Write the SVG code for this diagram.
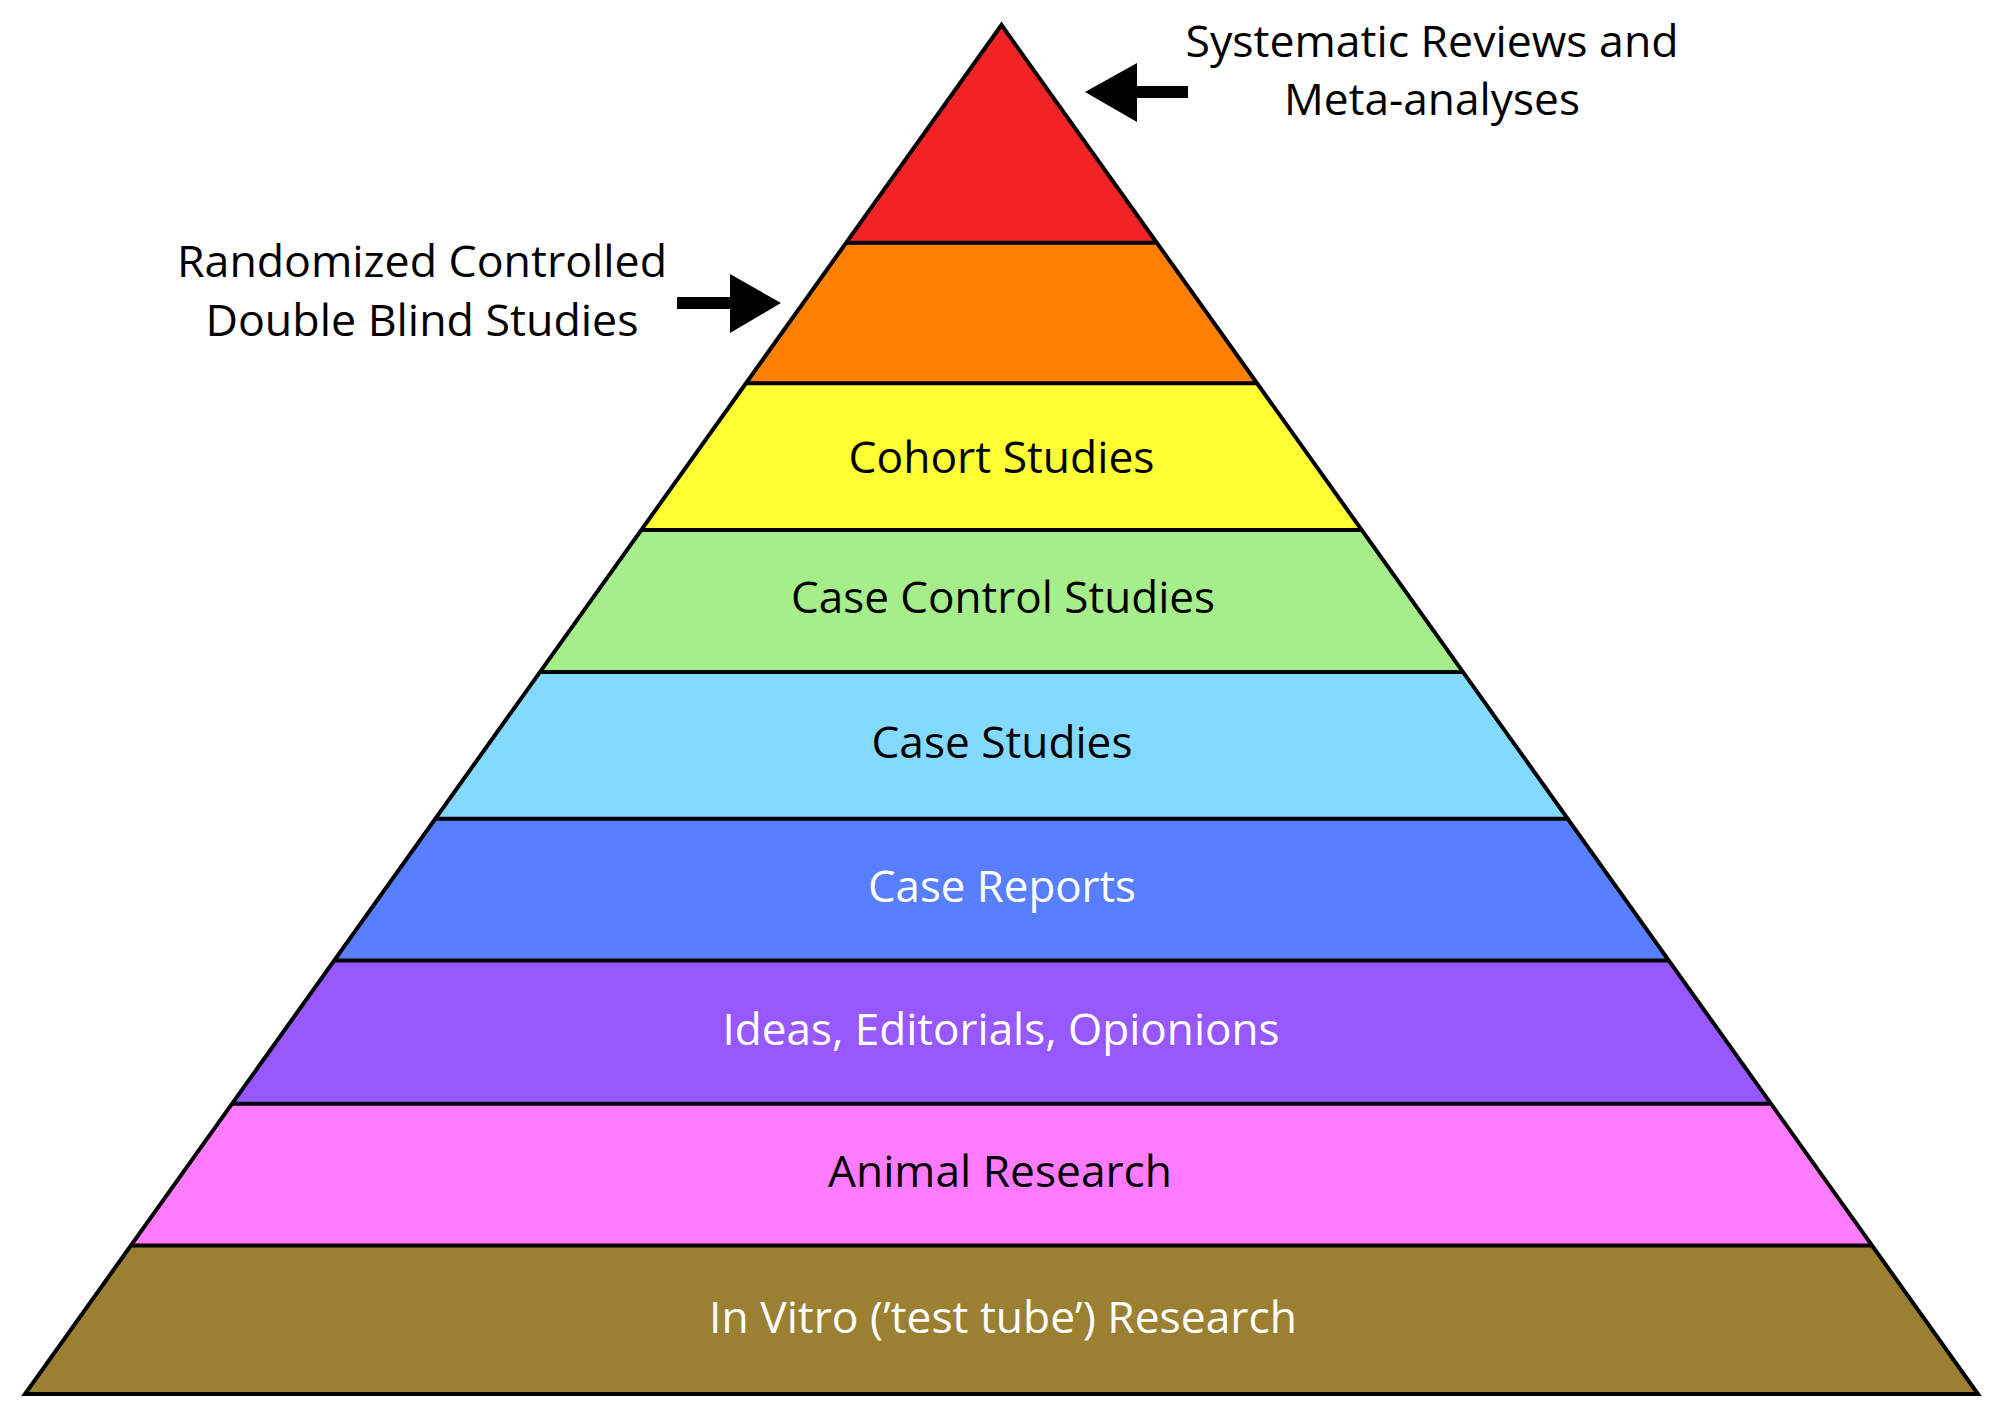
<svg xmlns="http://www.w3.org/2000/svg" width="2003" height="1420" viewBox="0 0 2003 1420">
<style>
.band{stroke:none}
.lbl{font-family:"Open Sans","Liberation Sans",sans-serif;font-size:44px;text-anchor:middle}
.dk{fill:#000}
.lt{fill:#fff}
.sep{stroke:#000;stroke-width:4;fill:none}
.arrow{fill:#000;stroke:none}
</style>
<rect width="2003" height="1420" fill="#fff"/>
<g id="band-systematic-reviews"><polygon class="band" fill="#F22325" points="1001.5,25 1156.8,242.7 846.2,242.7"/></g>
<g id="band-rct"><polygon class="band" fill="#FF8000" points="846.2,242.7 1156.8,242.7 1257,383.2 746,383.2"/></g>
<g id="band-cohort"><polygon class="band" fill="#FFFF33" points="746,383.2 1257,383.2 1361.8,530.1 641.2,530.1"/>
<text class="lbl dk" x="1001.5" y="473" textLength="306" lengthAdjust="spacingAndGlyphs">Cohort Studies</text></g>
<g id="band-case-control"><polygon class="band" fill="#A5EE8B" points="641.2,530.1 1361.8,530.1 1462.9,671.9 540.1,671.9"/>
<text class="lbl dk" x="1003" y="613" textLength="424" lengthAdjust="spacingAndGlyphs">Case Control Studies</text></g>
<g id="band-case-studies"><polygon class="band" fill="#84D9FF" points="540.1,671.9 1462.9,671.9 1567.7,818.8 435.3,818.8"/>
<text class="lbl dk" x="1002" y="758" textLength="261" lengthAdjust="spacingAndGlyphs">Case Studies</text></g>
<g id="band-case-reports"><polygon class="band" fill="#577FFF" points="435.3,818.8 1567.7,818.8 1668.9,960.6 334.1,960.6"/>
<text class="lbl lt" x="1002" y="902" textLength="268" lengthAdjust="spacingAndGlyphs">Case Reports</text></g>
<g id="band-ideas"><polygon class="band" fill="#9858FF" points="334.1,960.6 1668.9,960.6 1770.9,1103.7 232.1,1103.7"/>
<text class="lbl lt" x="1001" y="1045" textLength="557" lengthAdjust="spacingAndGlyphs">Ideas, Editorials, Opionions</text></g>
<g id="band-animal"><polygon class="band" fill="#FF7BFF" points="232.1,1103.7 1770.9,1103.7 1872.1,1245.5 130.9,1245.5"/>
<text class="lbl dk" x="1000" y="1187" textLength="344" lengthAdjust="spacingAndGlyphs">Animal Research</text></g>
<g id="band-in-vitro"><polygon class="band" fill="#9C8031" points="130.9,1245.5 1872.1,1245.5 1978,1394 25,1394"/>
<text class="lbl lt" x="1003" y="1333" textLength="588" lengthAdjust="spacingAndGlyphs">In Vitro (’test tube’) Research</text></g>
<g id="outline">
<line class="sep" x1="846.2" y1="242.7" x2="1156.8" y2="242.7"/>
<line class="sep" x1="746" y1="383.2" x2="1257" y2="383.2"/>
<line class="sep" x1="641.2" y1="530.1" x2="1361.8" y2="530.1"/>
<line class="sep" x1="540.1" y1="671.9" x2="1462.9" y2="671.9"/>
<line class="sep" x1="435.3" y1="818.8" x2="1567.7" y2="818.8"/>
<line class="sep" x1="334.1" y1="960.6" x2="1668.9" y2="960.6"/>
<line class="sep" x1="232.1" y1="1103.7" x2="1770.9" y2="1103.7"/>
<line class="sep" x1="130.9" y1="1245.5" x2="1872.1" y2="1245.5"/>
<polygon class="sep" stroke-linejoin="miter" stroke-miterlimit="10" points="1001.5,25 1978,1394 25,1394"/>
</g>
<g id="label-systematic">
<text class="lbl dk" x="1432" y="57" textLength="493" lengthAdjust="spacingAndGlyphs">Systematic Reviews and</text>
<text class="lbl dk" x="1432" y="115" textLength="296" lengthAdjust="spacingAndGlyphs">Meta-analyses</text>
</g>
<g id="label-rct">
<text class="lbl dk" x="422" y="277" textLength="490" lengthAdjust="spacingAndGlyphs">Randomized Controlled</text>
<text class="lbl dk" x="422" y="336" textLength="433" lengthAdjust="spacingAndGlyphs">Double Blind Studies</text>
</g>
<g id="connectors">
<polygon class="arrow" points="1085,92 1137,63 1137,86 1188,86 1188,98 1137,98 1137,122"/>
<polygon class="arrow" points="781,303 730,274 730,297 677,297 677,309 730,309 730,333"/>
</g>
</svg>
